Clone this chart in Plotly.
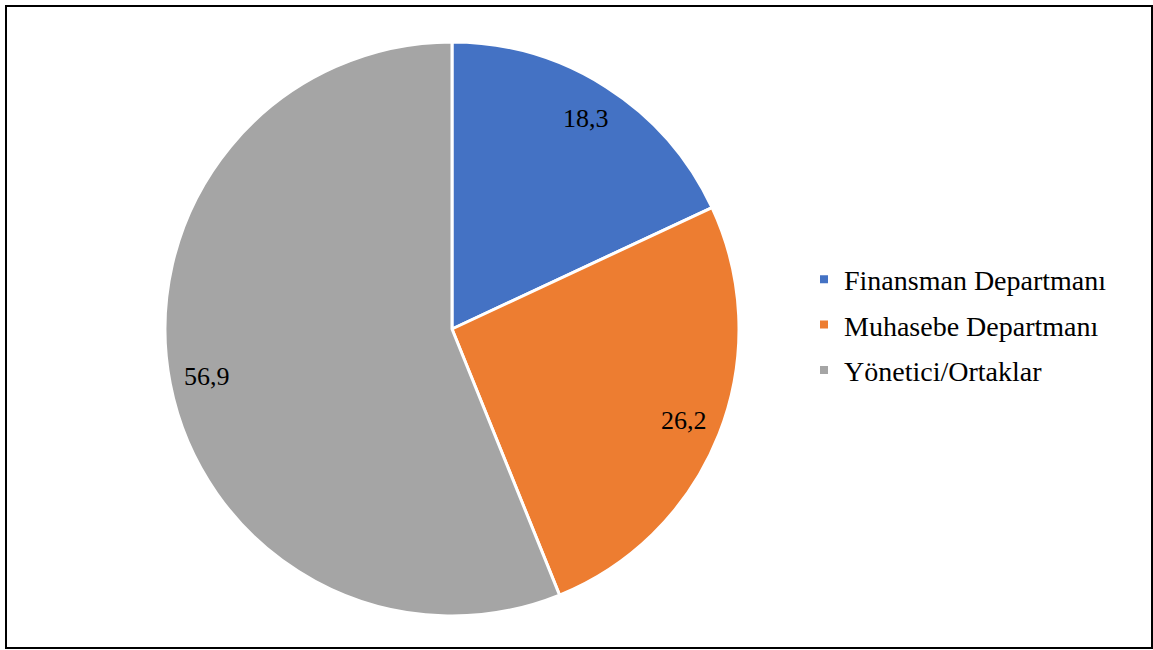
import math
import plotly.graph_objects as go

# Survey shares by department
categories = ["Finansman Departmanı", "Muhasebe Departmanı", "Yönetici/Ortaklar"]
shares = [18.3, 26.2, 56.9]
value_labels = ["18,3", "26,2", "56,9"]
colors = ["#4472C4", "#ED7D31", "#A5A5A5"]

W, H = 1153, 650
FONT = "Liberation Serif, Times New Roman, serif"

# pie placement (pixels)
cx, cy, R = 452, 329, 287
dom_x = [(cx - R) / W, (cx + R) / W]
dom_y = [(H - cy - R) / H, (H - cy + R) / H]

fig = go.Figure()
fig.add_trace(go.Pie(
    labels=categories,
    values=shares,
    sort=False,
    direction="clockwise",
    rotation=0,
    marker=dict(colors=colors, line=dict(color="white", width=3)),
    textinfo="none",
    hoverinfo="label+value",
    showlegend=False,
    domain=dict(x=dom_x, y=dom_y),
))

# legend entries with small square swatches, one group each for spacing
for name, col in zip(categories, colors):
    fig.add_trace(go.Scatter(
        x=[None], y=[None], mode="markers", name=name, legendgroup=name,
        marker=dict(symbol="square", size=8, color=col),
    ))

# value labels placed at 0.87 R along each slice's mid-angle
total = sum(shares)
cum = 0.0
annotations = []
for v, lab in zip(shares, value_labels):
    mid = (cum + v / 2) / total * 2 * math.pi
    cum += v
    px = cx + 0.87 * R * math.sin(mid)
    py = cy - 0.87 * R * math.cos(mid)
    annotations.append(dict(
        x=px / W, y=(H - py) / H, xref="paper", yref="paper",
        text=lab, showarrow=False,
        font=dict(family=FONT, size=26, color="black"),
        xanchor="center", yanchor="middle",
    ))

fig.update_layout(
    width=W, height=H,
    margin=dict(l=0, r=0, t=0, b=0),
    paper_bgcolor="white", plot_bgcolor="white",
    xaxis=dict(visible=False), yaxis=dict(visible=False),
    annotations=annotations,
    legend=dict(
        x=804 / W, xanchor="left", y=(H - 325) / H, yanchor="middle",
        font=dict(family=FONT, size=28, color="black"),
        bgcolor="rgba(0,0,0,0)",
        tracegroupgap=6,
    ),
    shapes=[dict(
        type="rect", xref="paper", yref="paper",
        x0=6 / W, x1=1152 / W, y0=(H - 648) / H, y1=(H - 6) / H,
        line=dict(color="black", width=2),
    )],
)

fig.write_html("out.html")
